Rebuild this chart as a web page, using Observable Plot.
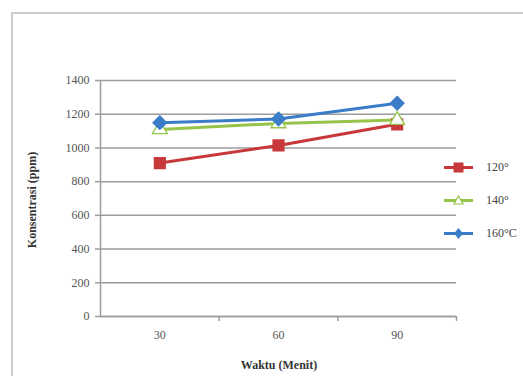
<!DOCTYPE html>
<html><head><meta charset="utf-8">
<script src="https://cdn.jsdelivr.net/npm/d3@7"></script>
<script src="https://cdn.jsdelivr.net/npm/@observablehq/plot@0.6"></script>
<style>
body{margin:0;background:#fff;overflow:hidden}
#wrap{position:relative;width:523px;height:376px;overflow:hidden;background:#fff}
#border{position:absolute;left:11px;top:12px;width:600px;height:500px;border:2px solid #cdcdcd;box-sizing:border-box}
#chart{position:absolute;left:0;top:0}
.title{position:absolute;font-family:"Liberation Serif","DejaVu Serif",serif;font-weight:bold;font-size:12px;color:#333;white-space:nowrap}
#ylab{left:32px;top:200px;transform:translate(-50%,-50%) rotate(-90deg)}
#xlab{left:279px;top:365px;transform:translate(-50%,-50%)}
#legend{position:absolute;left:444px;top:151px;font-family:"Liberation Serif","DejaVu Serif",serif;font-size:12px;color:#444}
.li{display:flex;align-items:center;height:33px}
.li span{margin-left:13px}
</style></head>
<body>
<div id="wrap"><div id="border"></div><div id="chart"></div>
<div id="ylab" class="title">Konsentrasi (ppm)</div>
<div id="xlab" class="title">Waktu (Menit)</div>
<div id="legend"></div></div>
<script>
const waktu = [30, 60, 90];
const seriesNames = ["120°", "140°", "160°C"];
const s120 = [910, 1015, 1140];
const s140 = [1110, 1145, 1165];
const s160 = [1150, 1172, 1265];
const yTicks = [0, 200, 400, 600, 800, 1000, 1200, 1400];
const colors = ["#c8383a", "#96c44a", "#3b7cc8"];

const values = [s120, s140, s160];
const data = [];
seriesNames.forEach((s, i) => waktu.forEach((w, j) => data.push({series: s, waktu: w, value: values[i][j]})));

const chart = Plot.plot({
  width: 523, height: 376,
  marginLeft: 100, marginRight: 67, marginTop: 80, marginBottom: 60,
  style: {background: "transparent", color: "#555", fontFamily: "'Liberation Serif', serif", fontSize: "12px"},
  x: {domain: [15, 105], axis: null},
  y: {domain: [0, 1400], axis: null},
  color: {domain: seriesNames, range: colors},
  marks: [
    Plot.gridY(yTicks, {stroke: "#9c9c9c", strokeOpacity: 1, strokeWidth: 1.5}),
    Plot.axisY(yTicks, {tickSize: 5, tickPadding: 6, tickFormat: d => String(d), stroke: "#9c9c9c", strokeWidth: 1.5, label: null, fill: "#555"}),
    Plot.ruleX([15], {stroke: "#9c9c9c", strokeWidth: 1.5}),
    Plot.ruleY([0], {stroke: "#9c9c9c", strokeWidth: 1.5}),
    Plot.axisX(waktu, {tickSize: 0, tickPadding: 14, tickFormat: d => String(d), label: null, fill: "#555"}),
    Plot.axisX([45, 75, 105], {tickSize: 5, text: null, label: null, stroke: "#9c9c9c", strokeWidth: 1.5}),
    Plot.line(data, {x: "waktu", y: "value", z: "series", stroke: "series", strokeWidth: 3}),
    Plot.dot(data.filter(d => d.series === seriesNames[0]), {x: "waktu", y: "value", symbol: "square", r: 6, fill: colors[0], stroke: colors[0]}),
    Plot.dot(data.filter(d => d.series === seriesNames[1]), {x: "waktu", y: "value", symbol: "triangle", r: 5.5, fill: "white", stroke: colors[1], strokeWidth: 1.3}),
    Plot.dot(data.filter(d => d.series === seriesNames[2]), {x: "waktu", y: "value", symbol: "diamond2", r: 6, fill: colors[2], stroke: colors[2]})
  ]
});
document.getElementById("chart").appendChild(chart);

const legend = document.getElementById("legend");
const sym = [
  c => `<rect x="9.5" y="5.5" width="10" height="10" fill="${c}"/>`,
  c => `<path d="M14.5,6 L19,14 L10,14 Z" fill="white" stroke="${c}" stroke-width="1.2"/>`,
  c => `<path d="M14.5,5 L19,10.5 L14.5,16 L10,10.5 Z" fill="${c}"/>`
];
seriesNames.forEach((s, i) => {
  const div = document.createElement("div");
  div.className = "li";
  div.innerHTML = `<svg width="29" height="21"><line x1="0" x2="29" y1="10.5" y2="10.5" stroke="${colors[i]}" stroke-width="3"/>${sym[i](colors[i])}</svg><span>${s}</span>`;
  legend.appendChild(div);
});
</script>
</body></html>
